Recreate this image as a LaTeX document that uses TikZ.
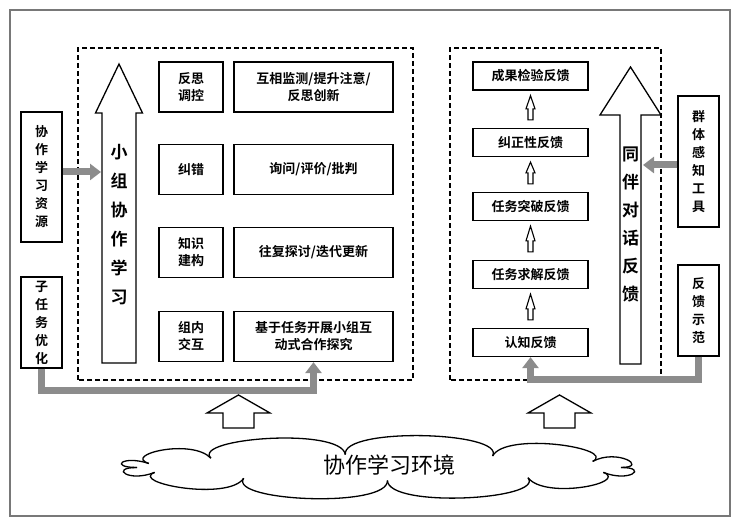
\documentclass[tikz,border=0pt]{standalone}
\usepackage{fontspec}
\usetikzlibrary{arrows.meta, calc, positioning}
\newfontfamily\cjk{Noto Sans CJK SC}[BoldFont={Noto Sans CJK SC Bold}]
\definecolor{color1}{RGB}{120,120,120}
\definecolor{color2}{RGB}{140,140,140}

\begin{document}
\begin{tikzpicture}[x=1pt, y=1pt, line join=miter,
        box/.style={draw, line width=1.3pt, align=center, inner sep=0pt, font=\cjk\bfseries\fontsize{13}{17}\selectfont},
        vbox/.style={box, font=\cjk\bfseries\fontsize{13}{18}\selectfont},
        gflow/.style={color2, line width=7pt, -{Triangle[width=16pt,length=11pt]}},
        hollow/.style={draw, line width=1.3pt, fill=white},
        zone/.style={line width=1.1pt, dash pattern=on 5pt off 3pt}]
    \useasboundingbox (0,0) rectangle (742,526);
    \draw[color1, line width=1.5pt] (10,10) rectangle (730,516);
    \draw[zone] (78,146) rectangle (413,478);
    \draw[zone] (450,146) rectangle (661,478);

    % left part
    \node[vbox, minimum width=41pt, minimum height=130pt] (res) at (41.5,349) {协\\作\\学\\习\\资\\源};
    \node[vbox, minimum width=41pt, minimum height=91pt] (opt) at (41.5,203.5) {子\\任\\务\\优\\化};

    \draw[hollow] (102,163) -- (102,413) -- (95.5,413) -- (119,462) -- (142.5,413) -- (136,413) -- (136,163) -- cycle;
    \node[font=\cjk\bfseries\fontsize{17}{29}\selectfont, align=center] (grp) at (119,301) {小\\组\\协\\作\\学\\习};
    \coordinate (grpin) at (101,354);

    \node[box, minimum width=64pt, minimum height=50pt] (refl) at (191,439) {反思\\调控};
    \node[box, minimum width=159pt, minimum height=50pt] (refl2) at (313.5,439) {互相监测/提升注意/\\反思创新};
    \node[box, minimum width=64pt, minimum height=50pt] (corr) at (191,356.5) {纠错};
    \node[box, minimum width=159pt, minimum height=50pt] (corr2) at (313.5,356.5) {询问/评价/批判};
    \node[box, minimum width=64pt, minimum height=50pt] (know) at (191,273.5) {知识\\建构};
    \node[box, minimum width=159pt, minimum height=50pt] (know2) at (313.5,273.5) {往复探讨/迭代更新};
    \node[box, minimum width=64pt, minimum height=50pt] (inter) at (191,189.5) {组内\\交互};
    \node[box, minimum width=159pt, minimum height=50pt] (inter2) at (313.5,189.5) {基于任务开展小组互\\动式合作探究};

    \draw[gflow] (res.east |- grpin) -- (grpin);
    \draw[gflow] (opt.south) -- ++(0,-22) -| (inter2.south);

    % right part
    \node[box, minimum width=115pt, minimum height=28pt] (result) at (530.5,450) {成果检验反馈};
    \node[box, minimum width=115pt, minimum height=28pt] (fix) at (530.5,383.5) {纠正性反馈};
    \node[box, minimum width=115pt, minimum height=28pt] (brk) at (530.5,319.5) {任务突破反馈};
    \node[box, minimum width=115pt, minimum height=28pt] (solve) at (530.5,251.5) {任务求解反馈};
    \node[box, minimum width=115pt, minimum height=28pt] (cog) at (530.5,183.5) {认知反馈};
    \foreach \a/\b in {cog/solve, solve/brk, brk/fix, fix/result}
        \draw[hollow, line width=1.1pt] ($(\a.north)+(-2.5,8)$) -- ($(\a.north)+(-2.5,19)$) -- ($(\a.north)+(-4.5,19)$) -- ($(\b.south)+(0,-5)$)
            -- ($(\a.north)+(4.5,19)$) -- ($(\a.north)+(2.5,19)$) -- ($(\a.north)+(2.5,8)$) -- cycle;

    \draw[hollow] (620,162) -- (620,411) -- (600,411) -- (630.5,459) -- (661,411) -- (641,411) -- (641,162) -- cycle;
    \node[font=\cjk\bfseries\fontsize{17}{28}\selectfont, align=center] (peer) at (630.5,301) {同\\伴\\对\\话\\反\\馈};
    \coordinate (peerin) at (643,361);

    \node[vbox, minimum width=41pt, minimum height=131pt] (tool) at (698.5,364.5) {群\\体\\感\\知\\工\\具};
    \node[vbox, minimum width=41pt, minimum height=91pt] (demo) at (698.5,215.5) {反\\馈\\示\\范};

    \draw[gflow] (tool.west |- peerin) -- (peerin);
    \draw[gflow] (demo.south) -- ++(0,-23) -| (cog.south);

    % environment
    \draw[hollow] (223,98) -- (223,113) -- (207,113) -- (238.5,131) -- (270,113) -- (254,113) -- (254,98) -- cycle;
    \draw[hollow] (544,98) -- (544,113) -- (528,113) -- (559.5,131) -- (591,113) -- (575,113) -- (575,98) -- cycle;
    \coordinate (envc) at (379,58.5);
    \foreach \a/\b in {0/28, 28/62, 62/98, 98/134, 134/162, 162/180, 180/202, 202/236, 236/272, 272/308, 308/338, 338/360}
        \draw[line width=1.3pt] ($(envc)+({242*cos(\a)},{13*sin(\a)})$) .. controls ($(envc)+({270*cos(\a)},{41*sin(\a)})$)
            and ($(envc)+({270*cos(\b)},{41*sin(\b)})$) .. ($(envc)+({242*cos(\b)},{13*sin(\b)})$);
    \node[font=\cjk\fontsize{22}{26}\selectfont] (env) at (389,61) {协作学习环境};
\end{tikzpicture}
\end{document}
